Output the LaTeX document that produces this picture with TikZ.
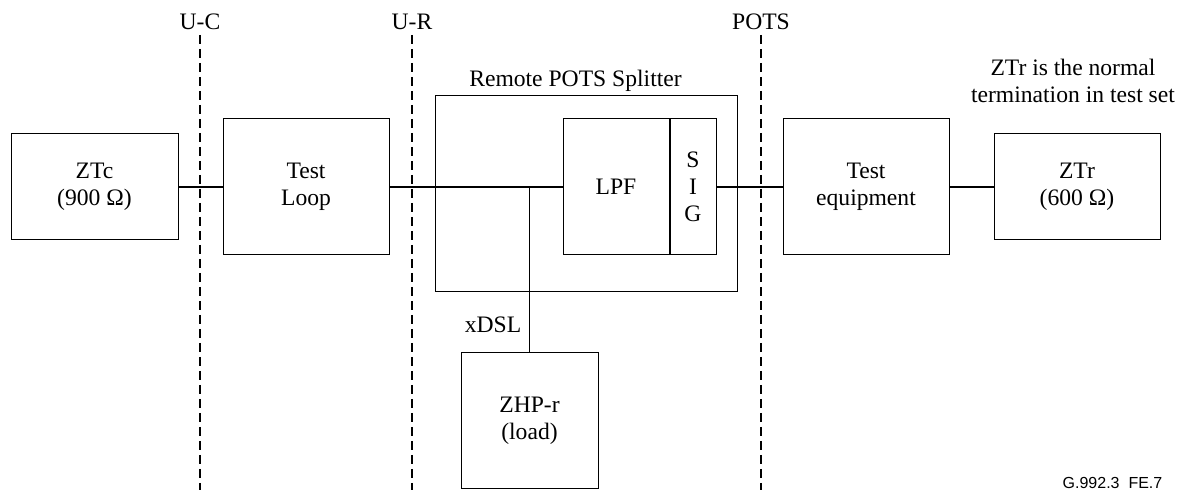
\documentclass[tikz,border=0pt]{standalone}
\usepackage{fontspec}
\setmainfont{Liberation Serif}
\newfontfamily\tagfont{Liberation Sans}
\usepackage{tikz}
\usetikzlibrary{positioning}
\newcommand{\figfont}{\fontsize{11.8}{13.5}\selectfont}

\begin{document}
\begin{tikzpicture}[x=0.5pt,y=-0.5pt,
    every node/.style={font=\figfont},
    blk/.style={draw,line width=0.5pt,inner sep=0pt,align=center},
    wire/.style={line width=0.75pt},
    refline/.style={line width=0.7pt,dash pattern=on 4.5pt off 2.5pt},
    lbl/.style={inner sep=0pt,anchor=base}
  ]
    \useasboundingbox (0,0) rectangle (1179,490);
    \foreach \x/\nm in {200/U-C,412/U-R,761/POTS}{
      \draw[refline] (\x,35) -- (\x,490);
      \node[lbl] (ref-\nm) at (\x,30) {\nm};
    }
    \node[blk,minimum width=83.5pt,minimum height=53pt] (ztc)    at (94.5,187) {ZTc\\(900 Ω)};
    \node[blk,minimum width=83pt,minimum height=68pt]   (loop)   at (306,187)  {Test\\Loop};
    \node[blk,minimum width=151pt,minimum height=98pt]  (split)  at (586,194)  {};
    \node[lbl] (splitlbl) at (575.5,87) {Remote POTS Splitter};
    \node[blk,minimum width=53pt,minimum height=68pt]   (lpf)    at (616,187)  {LPF};
    \node[blk,minimum width=23pt,minimum height=68pt,right=0pt of lpf] (sig) {S\\I\\G};
    \node[blk,minimum width=83pt,minimum height=68pt]   (testeq) at (866,187)  {Test\\equipment};
    \node[blk,minimum width=83pt,minimum height=53pt]   (ztr)    at (1077,187) {ZTr\\(600 Ω)};
    \node[inner sep=0pt,align=center] (note) at (1073,81) {ZTr is the normal\\termination in test set};
    \node[blk,minimum width=68.5pt,minimum height=68pt] (zhp)    at (529.5,421) {ZHP-r\\(load)};
    \node[lbl] (xdsl) at (493,333) {xDSL};
    \node[lbl,font=\tagfont\fontsize{8}{9.6}\selectfont] (figtag) at (1112.5,489) {G.992.3\ \ FE.7};
    \draw[wire] (ztc.east) -- (loop.west);
    \draw[wire] (loop.east) -- (lpf.west);
    \draw[wire] (sig.east) -- (testeq.west);
    \draw[wire] (testeq.east) -- (ztr.west);
    \draw[wire] (zhp.north) -- (zhp.north |- lpf.west);
\end{tikzpicture}
\end{document}
